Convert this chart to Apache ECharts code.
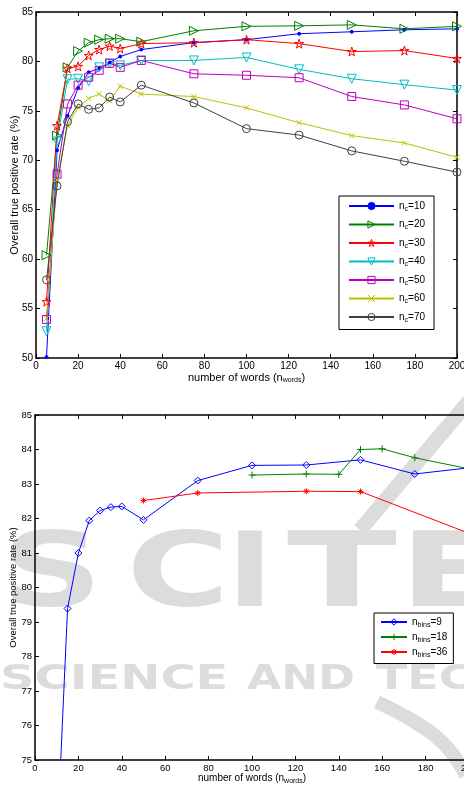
<!DOCTYPE html>
<html lang="en">
<head>
<meta charset="UTF-8">
<title>true positive rate vs number of words</title>
<script src="https://cdn.jsdelivr.net/npm/echarts@6/dist/echarts.min.js"></script>
<style>
  html, body { margin: 0; padding: 0; background: #fff; }
  #main { width: 464px; height: 785px; }
</style>
</head>
<body>
<div id="main"></div>
<script type="text/javascript">
// top plot: n_c series, shared x values
var xWords = [5, 10, 15, 20, 25, 30, 35, 40, 50, 75, 100, 125, 150, 175, 200];
var nc10 = [50.1, 71.0, 74.5, 77.3, 78.9, 79.3, 79.9, 80.5, 81.2, 81.9, 82.2, 82.8, 83.0, 83.2, 83.3];
var nc20 = [60.4, 72.5, 79.4, 81.05, 81.9, 82.2, 82.3, 82.3, 82.0, 83.1, 83.55, 83.6, 83.7, 83.3, 83.55];
var nc30 = [55.7, 73.5, 79.3, 79.5, 80.6, 81.2, 81.55, 81.3, 81.8, 81.9, 82.2, 81.8, 81.0, 81.1, 80.3];
var nc40 = [52.7, 71.9, 78.2, 78.25, 78.0, 79.4, 79.8, 79.6, 80.1, 80.1, 80.4, 79.2, 78.25, 77.65, 77.1];
var nc50 = [53.9, 68.6, 75.7, 77.6, 78.4, 79.1, 79.8, 79.4, 80.1, 78.75, 78.6, 78.35, 76.45, 75.6, 74.2];
var nc60 = [54.0, 68.0, 73.5, 75.35, 76.25, 76.7, 76.0, 77.5, 76.7, 76.45, 75.3, 73.8, 72.5, 71.75, 70.3];
var nc70 = [57.9, 67.4, 73.9, 75.7, 75.15, 75.3, 76.4, 75.9, 77.6, 75.8, 73.2, 72.55, 70.95, 69.9, 68.8];

// bottom plot: n_bins series
var bins9X = [5, 10, 15, 20, 25, 30, 35, 40, 50, 75, 100, 125, 150, 175, 200];
var bins9 = [60.4, 72.4, 79.39, 81.0, 81.94, 82.23, 82.33, 82.35, 81.96, 83.1, 83.54, 83.55, 83.7, 83.29, 83.47];
var bins18X = [100, 125, 140, 150, 160, 175, 200];
var bins18 = [83.26, 83.29, 83.28, 84.0, 84.02, 83.76, 83.44];
var bins36X = [50, 75, 125, 150, 200];
var bins36 = [82.52, 82.74, 82.79, 82.78, 81.57];

var FONT = '"Liberation Sans", Arial, sans-serif';
var STAR = 'path://M50,0L61,35L98,35L68,57L79,91L50,70L21,91L32,57L2,35L39,35Z';
var CROSS = 'path://M0,0L10,10M10,0L0,10';
var PLUS = 'path://M5,0L5,10M0,5L10,5';
var ASTER = 'path://M5,0L5,10M0,5L10,5M1.5,1.5L8.5,8.5M8.5,1.5L1.5,8.5';
var CLEAR = 'rgba(255,255,255,0)';

function pairs(xs, ys) {
  var out = [];
  for (var i = 0; i < xs.length; i++) {
    out.push([xs[i], ys[i]]);
  }
  return out;
}

var legendTop = [];
var legendBot = [];

function mkLine(name, xs, ys, color, symbol, size, rotate, filled, grid) {
  var item = {
    color: filled ? color : CLEAR,
    borderColor: color,
    borderWidth: 1
  };
  (grid === 0 ? legendTop : legendBot).push({ name: name, itemStyle: item });
  return {
    name: name,
    type: 'line',
    xAxisIndex: grid * 2,
    yAxisIndex: grid * 2,
    data: pairs(xs, ys),
    symbol: symbol,
    symbolSize: size,
    symbolRotate: rotate,
    showAllSymbol: true,
    lineStyle: { color: color, width: 1 },
    itemStyle: item,
    emphasis: { disabled: true },
    z: 3
  };
}

function xAx(grid, fs, shown) {
  return {
    type: 'value', gridIndex: grid, min: 0, max: 200, interval: 20,
    position: shown ? 'bottom' : 'top',
    axisLine: { onZero: false, lineStyle: { color: '#000', width: 1.5 } },
    axisTick: { inside: true, length: 4, lineStyle: { color: '#000' } },
    axisLabel: { show: shown, color: '#000', fontFamily: FONT, fontSize: fs, margin: 3 },
    splitLine: { show: false }
  };
}

function yAx(grid, lo, hi, step, fs, shown) {
  return {
    type: 'value', gridIndex: grid, min: lo, max: hi, interval: step,
    position: shown ? 'left' : 'right',
    axisLine: { onZero: false, lineStyle: { color: '#000', width: 1.5 } },
    axisTick: { inside: true, length: 4, lineStyle: { color: '#000' } },
    axisLabel: { show: shown, color: '#000', fontFamily: FONT, fontSize: fs, margin: 3 },
    splitLine: { show: false }
  };
}

var subRich = {
  s: { fontSize: 7, fontFamily: FONT, color: '#000', padding: [6, 0, 0, 0] }
};

var series = [
  mkLine('n_c=10', xWords, nc10, '#0000ff', 'circle', 3, 0, true, 0),
  mkLine('n_c=20', xWords, nc20, '#008000', 'triangle', 9, -90, false, 0),
  mkLine('n_c=30', xWords, nc30, '#ff0000', STAR, 9, 0, false, 0),
  mkLine('n_c=40', xWords, nc40, '#00bfbf', 'triangle', 9, 180, false, 0),
  mkLine('n_c=50', xWords, nc50, '#bf00bf', 'rect', 8, 0, false, 0),
  mkLine('n_c=60', xWords, nc60, '#bfbf00', CROSS, 5, 0, false, 0),
  mkLine('n_c=70', xWords, nc70, '#404040', 'circle', 8, 0, false, 0),
  mkLine('n_bins=9', bins9X, bins9, '#0000ff', 'diamond', 7, 0, false, 1),
  mkLine('n_bins=18', bins18X, bins18, '#008000', PLUS, 7, 0, false, 1),
  mkLine('n_bins=36', bins36X, bins36, '#ff0000', ASTER, 6, 0, false, 1)
];

var xTop = xAx(0, 10, true);
xTop.name = 'number of words (n{s|words})';
xTop.nameLocation = 'middle';
xTop.nameGap = 13;
xTop.nameMoveOverlap = false;
xTop.nameTextStyle = { color: '#000', fontFamily: FONT, fontSize: 11, rich: subRich };

var yTop = yAx(0, 50, 85, 5, 10, true);
yTop.name = 'Overall true positive rate (%)';
yTop.nameLocation = 'middle';
yTop.nameGap = 16;
yTop.nameMoveOverlap = false;
yTop.nameTextStyle = { color: '#000', fontFamily: FONT, fontSize: 11 };

var xBot = xAx(1, 9.5, true);
xBot.name = 'number of words (n{s|words})';
xBot.nameLocation = 'middle';
xBot.nameGap = 12;
xBot.nameMoveOverlap = false;
xBot.nameTextStyle = { color: '#000', fontFamily: FONT, fontSize: 10, rich: subRich };

var yBot = yAx(1, 75, 85, 1, 9.5, true);
yBot.name = 'Overall true positive rate (%)';
yBot.nameLocation = 'middle';
yBot.nameGap = 17;
yBot.nameMoveOverlap = false;
yBot.nameTextStyle = { color: '#000', fontFamily: FONT, fontSize: 9.5 };

// faint publisher watermark behind the lower plot
var wm = '#dcdcdc';
function wmText(txt, x, y, size, sx, align) {
  return {
    type: 'text', x: x, y: y, scaleX: sx, z: -10,
    style: {
      text: txt, fill: wm, font: 'bold ' + size + 'px "DejaVu Sans"',
      textAlign: align || 'center', textVerticalAlign: 'middle'
    }
  };
}

var dom = document.getElementById('main');
var myChart = echarts.init(dom);
var option = {
  animation: false,
  backgroundColor: '#fff',
  graphic: [
    wmText('S', 52, 579, 104, 1.35),
    wmText('C', 178, 579, 104, 1.35),
    wmText('I', 250, 579, 104, 1.2),
    wmText('T', 342, 579, 104, 1.55),
    wmText('E', 452, 579, 104, 1.5),
    wmText('SCIENCE', 0, 680, 34, 1.41, 'left'),
    wmText('AND', 247, 680, 34, 1.3, 'left'),
    wmText('TEC', 376, 680, 34, 1.35, 'left'),
    { type: 'polyline', z: -10, shape: { points: [[470, 400], [360, 530]] },
      style: { stroke: wm, lineWidth: 15 } },
    { type: 'polyline', z: -10, shape: { points: [[377, 702], [415, 722], [445, 745], [466, 775]], smooth: 0.4 },
      style: { stroke: wm, lineWidth: 14, fill: null } }
  ],
  grid: [
    { left: 36, top: 12, width: 421, height: 346, outerBoundsMode: 'none' },
    { left: 35, top: 415, width: 434, height: 345, outerBoundsMode: 'none' }
  ],
  xAxis: [xTop, xAx(0, 10, false), xBot, xAx(1, 9.5, false)],
  yAxis: [yTop, yAx(0, 50, 85, 5, 10, false), yBot, yAx(1, 75, 85, 1, 9.5, false)],
  legend: [
    {
      data: legendTop,
      orient: 'vertical', left: 339, top: 196,
      itemWidth: 45, itemHeight: 9, itemGap: 7,
      padding: [5, 9, 6, 9],
      borderColor: '#000', borderWidth: 1, backgroundColor: '#fff',
      selectedMode: false,
      formatter: function (n) { return 'n{s|c}=' + n.split('=')[1]; },
      textStyle: { color: '#000', fontFamily: FONT, fontSize: 10, rich: subRich }
    },
    {
      data: legendBot,
      orient: 'vertical', left: 374, top: 613,
      itemWidth: 26, itemHeight: 8, itemGap: 3.5,
      padding: [4, 6, 5, 6],
      borderColor: '#000', borderWidth: 1, backgroundColor: '#fff',
      selectedMode: false,
      formatter: function (n) { return 'n{s|bins}=' + n.split('=')[1]; },
      textStyle: { color: '#000', fontFamily: FONT, fontSize: 10, rich: subRich }
    }
  ],
  series: series
};
if (option && typeof option === 'object') {
  myChart.setOption(option, true);
}
</script>
</body>
</html>
